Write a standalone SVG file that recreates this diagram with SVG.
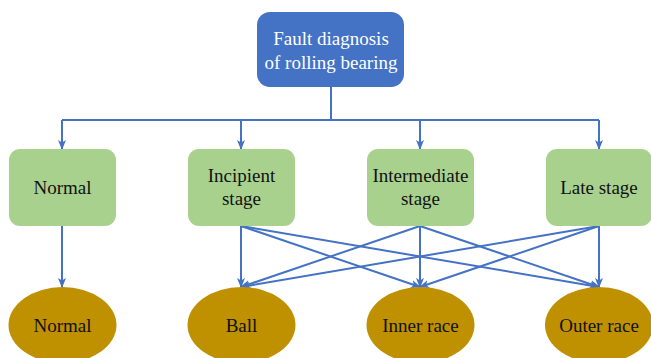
<svg xmlns="http://www.w3.org/2000/svg" width="651" height="358" viewBox="0 0 651 358">
<style>
.ln{fill:none;stroke:#4472C4;stroke-width:2}
.arr{marker-end:url(#ah)}
.root{fill:#4472C4}
.stage{fill:#A9D18E}
.fault{fill:#BF9000}
text{font-family:"Liberation Serif","Times New Roman",serif;font-size:19px;text-anchor:middle}
.w{fill:#FFFFFF}
.b{fill:#111111}
</style>
<defs>
<marker id="ah" markerUnits="userSpaceOnUse" markerWidth="10" markerHeight="10" viewBox="0 0 10 10" refX="9" refY="5" orient="auto">
<path d="M0,1 L10,5 L0,9 L2.5,5 z" fill="#4472C4"/>
</marker>
</defs>
<rect width="651" height="358" fill="#FFFFFF"/>
<g id="connectors">
<path class="ln" d="M331,87 V120 M62,120 H599"/>
<path class="ln arr" d="M62,120 V149"/>
<path class="ln arr" d="M241,120 V149"/>
<path class="ln arr" d="M420,120 V149"/>
<path class="ln arr" d="M599,120 V149"/>
<path class="ln arr" d="M62,226 V287"/>
<path class="ln arr" d="M241,226 L241,287"/>
<path class="ln arr" d="M241,226 L420,287"/>
<path class="ln arr" d="M241,226 L599,287"/>
<path class="ln arr" d="M420,226 L241,287"/>
<path class="ln arr" d="M420,226 L420,287"/>
<path class="ln arr" d="M420,226 L599,287"/>
<path class="ln arr" d="M599,226 L241,287"/>
<path class="ln arr" d="M599,226 L420,287"/>
<path class="ln arr" d="M599,226 L599,287"/>
</g>
<g id="root">
<rect class="root" x="257" y="12" width="147" height="75" rx="13"/>
<text class="w" x="331" y="45">Fault diagnosis</text>
<text class="w" x="331" y="69">of rolling bearing</text>
</g>
<g id="stage-normal">
<rect class="stage" x="9" y="149" width="107" height="77" rx="11"/>
<text class="b" x="62.5" y="194">Normal</text>
</g>
<g id="stage-incipient">
<rect class="stage" x="188" y="149" width="107" height="77" rx="11"/>
<text class="b" x="241.5" y="182">Incipient</text>
<text class="b" x="241.5" y="205">stage</text>
</g>
<g id="stage-intermediate">
<rect class="stage" x="367" y="149" width="107" height="77" rx="11"/>
<text class="b" x="420.5" y="182">Intermediate</text>
<text class="b" x="420.5" y="205">stage</text>
</g>
<g id="stage-late">
<rect class="stage" x="546" y="149" width="106" height="77" rx="11"/>
<text class="b" x="599" y="194">Late stage</text>
</g>
<g id="fault-normal">
<ellipse class="fault" cx="62.5" cy="325" rx="54" ry="38"/>
<text class="b" x="62.5" y="332">Normal</text>
</g>
<g id="fault-ball">
<ellipse class="fault" cx="241.5" cy="325" rx="54" ry="38"/>
<text class="b" x="241.5" y="332">Ball</text>
</g>
<g id="fault-inner">
<ellipse class="fault" cx="420.5" cy="325" rx="54" ry="38"/>
<text class="b" x="420.5" y="332">Inner race</text>
</g>
<g id="fault-outer">
<ellipse class="fault" cx="599" cy="325" rx="54" ry="38"/>
<text class="b" x="599" y="332">Outer race</text>
</g>
</svg>
